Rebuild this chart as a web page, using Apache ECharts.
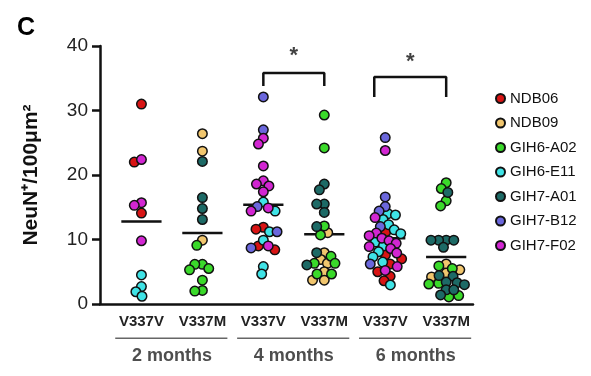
<!DOCTYPE html>
<html>
<head>
<meta charset="utf-8">
<script src="https://cdn.jsdelivr.net/npm/echarts@6/dist/echarts.min.js"></script>
<style>
  html, body { margin: 0; padding: 0; background: #fff; }
  #chart { width: 591px; height: 376px; }
</style>
</head>
<body>
<div id="chart"></div>
<script>
// cell lines (legend) and their dot colours
const cells = ['NDB06', 'NDB09', 'GIH6-A02', 'GIH6-E11', 'GIH7-A01', 'GIH7-B12', 'GIH7-F02'];
const cellColors = ['#d81414', '#f1c66e', '#3ad92a', '#3fe3e6', '#1d6a66', '#6b67dc', '#d226d2'];

// x categories
const genotypes = ['V337V', 'V337M', 'V337V', 'V337M', 'V337V', 'V337M'];
const ages = ['2 months', '4 months', '6 months'];

// NeuN+ per 100 um2, one object per column
const g2mV = {
  'NDB06': [31.0, 22.0, 14.1],
  'GIH7-F02': [22.4, 15.7, 15.3, 9.8],
  'GIH6-E11': [4.5, 2.7, 1.9, 1.2]
};
const g2mM = {
  'NDB09': [26.4, 23.7, 9.9],
  'GIH7-A01': [22.1, 16.5, 14.8, 13.1],
  'GIH6-A02': [9.1, 6.15, 6.15, 5.5, 5.3, 3.7, 2.1, 2.0]
};
const g4mV = {
  'GIH7-B12': [32.1, 27.0, 15.1, 11.2, 8.7],
  'GIH7-F02': [25.7, 24.8, 21.4, 19.1, 18.6, 18.3, 17.4, 14.9, 14.4, 9.0],
  'GIH6-E11': [15.8, 14.4, 11.2, 9.9, 5.8, 4.65],
  'NDB06': [11.9, 11.6, 9.0, 8.4]
};
const g4mM = {
  'GIH6-A02': [29.3, 24.2, 12.1, 10.7, 7.4, 6.3, 6.3, 4.65, 4.65],
  'GIH7-A01': [18.6, 17.7, 15.5, 15.5, 14.2, 12.0, 7.95, 6.05],
  'NDB09': [11.05, 7.95, 6.9, 6.3, 5.0, 3.7, 3.7]
};
const g6mV = {
  'GIH7-B12': [25.8, 16.6, 15.1, 14.4, 12.0, 6.2],
  'GIH7-F02': [23.8, 13.4, 11.0, 10.6, 10.2, 9.8, 9.4, 8.9, 8.6, 7.9, 5.8, 5.2],
  'GIH6-E11': [14.0, 13.8, 13.1, 12.3, 11.5, 10.9, 9.6, 9.0, 8.1, 7.3, 6.5, 2.95],
  'NDB06': [11.2, 7.6, 7.0, 6.2, 5.0, 4.3, 3.6]
};
const g6mM = {
  'GIH6-A02': [18.8, 17.9, 16.0, 15.2, 5.9, 5.5, 3.2, 3.1, 1.3, 1.1],
  'GIH7-A01': [17.3, 9.9, 9.9, 9.9, 9.9, 8.8, 4.4, 4.3, 3.4, 3.3, 3.0, 2.2, 2.2, 1.4],
  'NDB09': [6.2, 5.3, 4.8, 4.2]
};
const columns = [g2mV, g2mM, g4mV, g4mM, g6mV, g6mM];

// group means (horizontal bars)
const means = [12.8, 11.0, 15.4, 10.8, 10.2, 7.3];

// significance brackets: x ends, top, feet
const bracketX = [[2, 3], [3.82, 5]];
const bracketTop = [35.8, 35.2];
const bracketFoot = [33.8, 32.1];
const starY = [38.5, 37.6];

const FONT = '"Liberation Sans", Arial, sans-serif';
const GRID = { left: 100, right: 118, top: 46, bottom: 72 };
const X_MIN = -0.68, X_MAX = 5.44, Y_MAX = 40;
const PX_X = (591 - GRID.left - GRID.right) / (X_MAX - X_MIN);
const PX_Y = (376 - GRID.top - GRID.bottom) / Y_MAX;
const DOT = 9.5;   // drawn size
const GAP = 7.6;   // min centre distance, dots overlap a little

// simple beeswarm: place each dot as close to the column centre as possible
function swarm(col, gi) {
  const pts = [];
  cells.forEach((c, ci) => (col[c] || []).forEach(v => pts.push({ ci, v })));
  pts.sort((a, b) => b.v - a.v);
  const placed = [];
  pts.forEach(p => {
    const y = p.v * PX_Y;
    const cand = [0];
    placed.forEach(q => {
      const dy = y - q.y;
      if (Math.abs(dy) < GAP) {
        const w = Math.sqrt(GAP * GAP - dy * dy);
        cand.push(q.x - w, q.x + w);
      }
    });
    let best = null;
    cand.forEach(x => {
      if (placed.some(q => (x - q.x) ** 2 + (y - q.y) ** 2 < GAP * GAP - 0.01)) return;
      if (best === null || Math.abs(x) < Math.abs(best) - 1e-6) best = x;
    });
    placed.push({ x: best, y, ci: p.ci, v: p.v });
  });
  return placed.map(q => ({ ci: q.ci, x: gi + q.x / PX_X, v: q.v }));
}

const allDots = columns.flatMap((col, gi) => swarm(col, gi));

const dotSeries = cells.map((c, ci) => ({
  name: c,
  type: 'scatter',
  z: 3,
  symbol: 'circle',
  symbolSize: DOT,
  itemStyle: { color: cellColors[ci], borderColor: '#111', borderWidth: 1.5, opacity: 1 },
  data: allDots.filter(d => d.ci === ci).map(d => [d.x, d.v])
}));

const meanData = [];
means.forEach((m, i) => { meanData.push([i - 0.33, m], [i + 0.33, m], '-'); });

const bracketData = [];
bracketX.forEach((bx, i) => {
  bracketData.push([bx[0], bracketFoot[i]], [bx[0], bracketTop[i]], [bx[1], bracketTop[i]], [bx[1], bracketFoot[i]], '-');
});

// underline + age label below each pair of columns
const ageLineData = [];
ages.forEach((a, i) => { ageLineData.push([2 * i - 0.43, -5.3], [2 * i + 1.41, -5.3], '-'); });

const chart = echarts.init(document.getElementById('chart'));
chart.setOption({
  animation: false,
  textStyle: { fontFamily: FONT },
  title: {
    text: 'C', left: 12, top: 11,
    textStyle: { fontSize: 25, fontWeight: 'bold', color: '#000', fontFamily: FONT }
  },
  legend: {
    orient: 'vertical', left: 490, top: 86, itemGap: 9.5,
    icon: 'circle', itemWidth: 9, itemHeight: 9,
    textStyle: { fontSize: 15, color: '#111', fontFamily: FONT },
    data: cells
  },
  grid: GRID,
  xAxis: {
    type: 'value', min: X_MIN, max: X_MAX,
    axisLine: { show: true, onZero: false, lineStyle: { color: '#111', width: 2.5 } },
    axisTick: { show: false },
    splitLine: { show: false },
    axisLabel: {
      customValues: [0, 1, 2, 3, 4, 5],
      formatter: v => genotypes[Math.round(v)],
      fontSize: 15, fontWeight: 'bold', color: '#222', margin: 10
    }
  },
  yAxis: {
    type: 'value', min: 0, max: Y_MAX, interval: 10,
    name: 'NeuN⁺/100μm²', nameLocation: 'middle', nameGap: 58,
    nameTextStyle: { fontSize: 21, fontWeight: 'bold', color: '#111' },
    axisLine: { show: true, onZero: false, lineStyle: { color: '#111', width: 2.5 } },
    axisTick: { show: true, length: 8, lineStyle: { color: '#111', width: 2.5 } },
    splitLine: { show: false },
    axisLabel: { fontSize: 19, color: '#222', margin: 12 }
  },
  series: [
    ...dotSeries,
    {
      type: 'line', z: 2, symbol: 'none', silent: true,
      lineStyle: { color: '#111', width: 2.5 },
      data: meanData
    },
    {
      type: 'line', z: 2, symbol: 'none', silent: true,
      lineStyle: { color: '#111', width: 2.5 },
      data: bracketData
    },
    {
      type: 'scatter', symbolSize: 0, silent: true,
      label: { show: true, position: 'inside', formatter: '*', fontSize: 22, fontWeight: 'bold', color: '#111' },
      data: bracketX.map((bx, i) => [(bx[0] + bx[1]) / 2, starY[i]])
    },
    {
      type: 'line', z: 2, symbol: 'none', silent: true, clip: false,
      lineStyle: { color: '#666', width: 1.5 },
      data: ageLineData
    },
    {
      type: 'scatter', symbolSize: 0, silent: true, clip: false,
      label: {
        show: true, position: 'inside', fontSize: 18, fontWeight: 'bold', color: '#222',
        formatter: p => ages[p.dataIndex]
      },
      data: ages.map((a, i) => [2 * i + 0.5, -8.0])
    }
  ]
});
</script>
</body>
</html>
